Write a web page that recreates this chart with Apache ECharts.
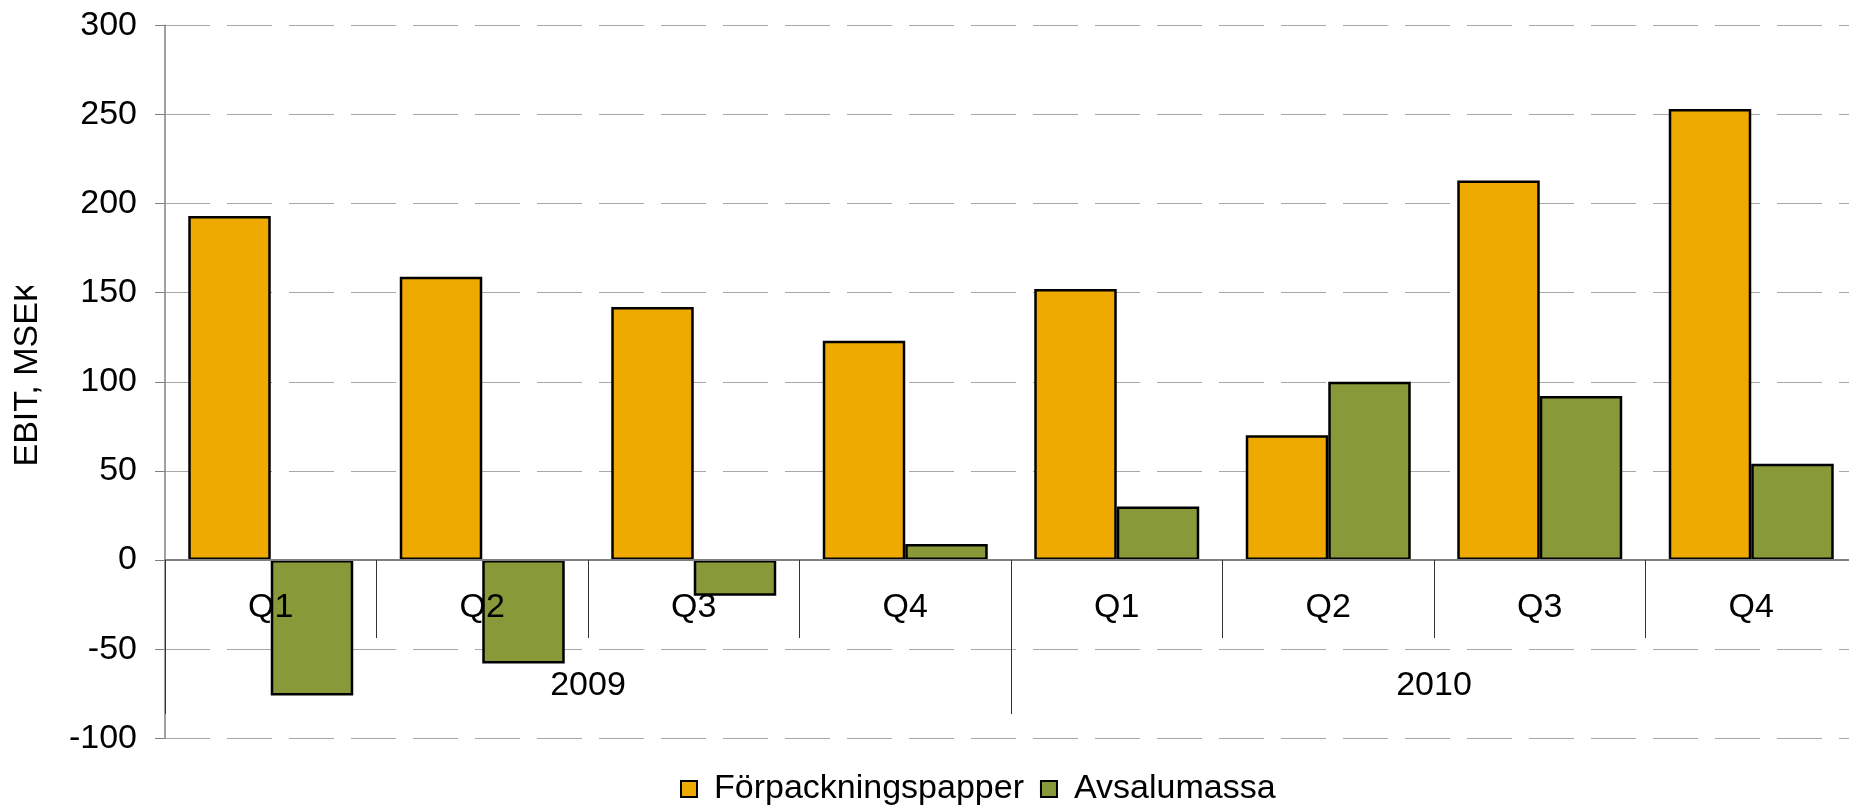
<!DOCTYPE html>
<html>
<head>
<meta charset="utf-8">
<script src="https://cdn.jsdelivr.net/npm/echarts@6/dist/echarts.min.js"></script>
<style>
html,body{margin:0;padding:0;background:#fff;}
#chart{width:1849px;height:805px;}
</style>
</head>
<body>
<div id="chart"></div>
<script>
const quarters = ['Q1','Q2','Q3','Q4','Q1','Q2','Q3','Q4'];
const years = ['2009','2010'];
const forpackningspapper = [193, 159, 142, 123, 152, 70, 213, 253];
const avsalumassa = [-76, -58, -20, 9, 30, 100, 92, 54];
const yMin = -100, yMax = 300, yStep = 50;
const yTitle = 'EBIT, MSEK';
const seriesNames = ['Förpackningspapper', 'Avsalumassa'];

const FONT = "'Liberation Sans', Arial, sans-serif";
const gridTop = 25.3, gridLeft = 165, gridWidth = 1692, gridHeight = 713;
const zeroOffset = -gridHeight * (0 - yMin) / (yMax - yMin);

const chart = echarts.init(document.getElementById('chart'), null, {renderer: 'canvas'});
chart.setOption({
  animation: false,
  backgroundColor: '#ffffff',
  textStyle: {fontFamily: FONT},
  grid: {left: gridLeft, top: gridTop, width: gridWidth, height: gridHeight, containLabel: false, outerBoundsMode: 'none'},
  legend: {
    left: 675, top: 767,
    itemWidth: 16, itemHeight: 16, itemGap: 16,
    icon: 'rect',
    textStyle: {fontSize: 34, color: '#000', fontFamily: FONT, padding: [0, 0, 0, 12]},
    data: seriesNames
  },
  xAxis: [
    {
      type: 'category', data: quarters, position: 'bottom', offset: zeroOffset, z: 10,
      axisLine: {show: true, onZero: false, lineStyle: {color: '#808080', width: 2}},
      axisTick: {show: true, interval: 0, length: 78, lineStyle: {color: '#333', width: 1}},
      axisLabel: {interval: 0, fontSize: 34, color: '#000', margin: 31, fontFamily: FONT},
      splitLine: {show: false}
    },
    {
      type: 'category', data: years, position: 'bottom', offset: zeroOffset, z: 10,
      axisLine: {show: false, onZero: false},
      axisTick: {show: true, interval: 0, length: 154, lineStyle: {color: '#333', width: 1}},
      axisLabel: {interval: 0, fontSize: 34, color: '#000', margin: 109, fontFamily: FONT},
      splitLine: {show: false}
    }
  ],
  yAxis: {
    type: 'value', min: yMin, max: yMax, interval: yStep,
    axisLine: {show: true, lineStyle: {color: '#808080', width: 1.5}},
    axisTick: {show: true, length: 10, lineStyle: {color: '#808080'}},
    axisLabel: {fontSize: 34, color: '#000', margin: 28, fontFamily: FONT},
    splitLine: {show: true, lineStyle: {color: '#a8a8a8', width: 1, type: [45, 17]}}
  },
  series: [
    {
      name: seriesNames[0], type: 'bar', data: forpackningspapper,
      barGap: '0%', barCategoryGap: '22%',
      itemStyle: {color: '#EEAA00', borderColor: '#000', borderWidth: 2.5}
    },
    {
      name: seriesNames[1], type: 'bar', data: avsalumassa,
      barGap: '0%', barCategoryGap: '22%',
      itemStyle: {color: '#889939', borderColor: '#000', borderWidth: 2.5}
    }
  ],
  graphic: [
    {
      type: 'text', x: 28, y: 373, rotation: Math.PI / 2, z: 10,
      style: {text: yTitle, fontSize: 34, fontFamily: FONT, fill: '#000', align: 'center', verticalAlign: 'middle'}
    },
    {
      type: 'rect', z: 20, shape: {x: 0, y: 0, width: 55, height: 286},
      style: {fill: '#ffffff'}
    }
  ]
});
</script>
</body>
</html>
